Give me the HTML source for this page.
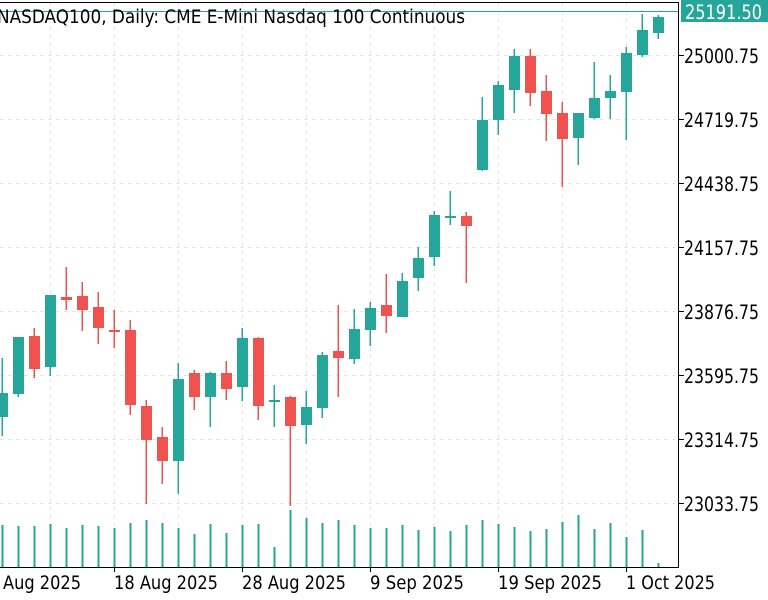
<!DOCTYPE html>
<html><head><meta charset="utf-8"><style>
html,body{margin:0;padding:0;background:#fff;width:768px;height:600px;overflow:hidden}
svg{display:block;font-family:"DejaVu Sans","Liberation Sans",sans-serif}
</style></head><body>
<svg id="c" width="768" height="600" xmlns="http://www.w3.org/2000/svg">
<g stroke="#e6e6e6" stroke-dasharray="4,4" stroke-width="1">
<line x1="50.5" y1="3" x2="50.5" y2="567"/><line x1="114.5" y1="3" x2="114.5" y2="567"/><line x1="178.5" y1="3" x2="178.5" y2="567"/><line x1="242.5" y1="3" x2="242.5" y2="567"/><line x1="306.5" y1="3" x2="306.5" y2="567"/><line x1="370.5" y1="3" x2="370.5" y2="567"/><line x1="434.5" y1="3" x2="434.5" y2="567"/><line x1="498.5" y1="3" x2="498.5" y2="567"/><line x1="562.5" y1="3" x2="562.5" y2="567"/><line x1="626.5" y1="3" x2="626.5" y2="567"/>
<line x1="0" y1="55.5" x2="678" y2="55.5"/><line x1="0" y1="119.5" x2="678" y2="119.5"/><line x1="0" y1="183.5" x2="678" y2="183.5"/><line x1="0" y1="247.5" x2="678" y2="247.5"/><line x1="0" y1="311.5" x2="678" y2="311.5"/><line x1="0" y1="375.5" x2="678" y2="375.5"/><line x1="0" y1="439.5" x2="678" y2="439.5"/><line x1="0" y1="503.5" x2="678" y2="503.5"/>
</g>
<g id="cs"></g>
<line x1="0" y1="11.5" x2="678" y2="11.5" stroke="#26a69a" stroke-width="1"/>
<line x1="0" y1="2.5" x2="678" y2="2.5" stroke="#000" stroke-width="1"/>
<line x1="678.5" y1="2" x2="678.5" y2="567" stroke="#000"/>
<line x1="0" y1="567.5" x2="679" y2="567.5" stroke="#000"/>
<g stroke="#000">
<line x1="678" y1="55.5" x2="684" y2="55.5"/><line x1="678" y1="119.5" x2="684" y2="119.5"/><line x1="678" y1="183.5" x2="684" y2="183.5"/><line x1="678" y1="247.5" x2="684" y2="247.5"/><line x1="678" y1="311.5" x2="684" y2="311.5"/><line x1="678" y1="375.5" x2="684" y2="375.5"/><line x1="678" y1="439.5" x2="684" y2="439.5"/><line x1="678" y1="503.5" x2="684" y2="503.5"/>
<line x1="114.5" y1="567" x2="114.5" y2="572"/><line x1="242.5" y1="567" x2="242.5" y2="572"/><line x1="370.5" y1="567" x2="370.5" y2="572"/><line x1="498.5" y1="567" x2="498.5" y2="572"/><line x1="626.5" y1="567" x2="626.5" y2="572"/>
</g>
<rect x="681" y="0" width="87" height="22" fill="#26a69a"/>
<text x="685" y="19" font-size="19.5" fill="#fff" textLength="77" lengthAdjust="spacingAndGlyphs">25191.50</text>
<g font-size="19.5" fill="#000">
<text x="684" y="63" textLength="75" lengthAdjust="spacingAndGlyphs">25000.75</text>
<text x="684" y="127" textLength="75" lengthAdjust="spacingAndGlyphs">24719.75</text>
<text x="684" y="191" textLength="75" lengthAdjust="spacingAndGlyphs">24438.75</text>
<text x="684" y="255" textLength="75" lengthAdjust="spacingAndGlyphs">24157.75</text>
<text x="684" y="319" textLength="75" lengthAdjust="spacingAndGlyphs">23876.75</text>
<text x="684" y="383" textLength="75" lengthAdjust="spacingAndGlyphs">23595.75</text>
<text x="684" y="447" textLength="75" lengthAdjust="spacingAndGlyphs">23314.75</text>
<text x="684" y="511" textLength="75" lengthAdjust="spacingAndGlyphs">23033.75</text>
<text x="3" y="589" font-size="18.5" textLength="78" lengthAdjust="spacingAndGlyphs">Aug 2025</text>
<text x="114" y="589" font-size="18.5" textLength="104" lengthAdjust="spacingAndGlyphs">18 Aug 2025</text>
<text x="242" y="589" font-size="18.5" textLength="104" lengthAdjust="spacingAndGlyphs">28 Aug 2025</text>
<text x="370" y="589" font-size="18.5" textLength="94" lengthAdjust="spacingAndGlyphs">9 Sep 2025</text>
<text x="498" y="589" font-size="18.5" textLength="104" lengthAdjust="spacingAndGlyphs">19 Sep 2025</text>
<text x="626" y="589" font-size="18.5" textLength="89" lengthAdjust="spacingAndGlyphs">1 Oct 2025</text>
<text x="-3" y="23" font-size="18.5" textLength="468" lengthAdjust="spacingAndGlyphs">NASDAQ100, Daily:  CME E-Mini Nasdaq 100 Continuous</text>
</g>
</svg>
<script>
var d=[[1,393,417,358,436,525],[1,337,394,337,397,526],[0,336,369,328,378,526],[1,295,367,295,376,524],[0,297,300,267,310,528],[0,296,310,282,331,525],[0,307,328,292,344,526],[0,330,332,310,348,528],[0,330,405,320,415,523],[0,406,440,400,504,520],[0,437,461,427,484,523],[1,379,461,363,494,528],[0,373,397,370,410,534],[1,373,397,372,427,524],[0,373,389,361,400,533],[1,338,387,328,401,525],[0,338,406,337,420,524],[1,400,402,385,427,547],[0,397,426,396,506,510],[1,407,425,391,444,518],[1,355,408,352,418,523],[0,351,358,305,397,520],[1,329,359,309,364,525],[1,308,330,302,346,528],[0,305,316,274,333,528],[1,281,317,273,317,525],[1,258,278,247,291,530],[1,215,257,211,266,527],[1,216,218,191,225,531],[0,216,226,212,283,525],[1,120,170,97,171,520],[1,85,120,81,135,524],[1,56,90,49,113,527],[0,56,93,49,106,531],[0,91,114,75,141,529],[0,113,139,102,187,522],[1,113,138,113,165,515],[1,98,118,62,119,529],[1,91,98,75,119,523],[1,53,92,47,140,537],[1,30,55,14,57,530],[1,17,33,15,39,563]];
var s='';d.forEach(function(c,k){var x=2+16*k,col=c[0]?'#26a69a':'#ef5350';
s+='<rect x="'+(x-0.5)+'" y="'+c[3]+'" width="1.5" height="'+(c[4]-c[3])+'" fill="'+col+'"/>';
s+='<rect x="'+(x-5)+'" y="'+c[1]+'" width="11" height="'+Math.max(2,c[2]-c[1])+'" fill="'+col+'"/>';
s+='<rect x="'+(x-0.5)+'" y="'+c[5]+'" width="2" height="'+(567-c[5])+'" fill="#26a69a"/>';});
document.getElementById('cs').innerHTML=s;
</script>
</body></html>
